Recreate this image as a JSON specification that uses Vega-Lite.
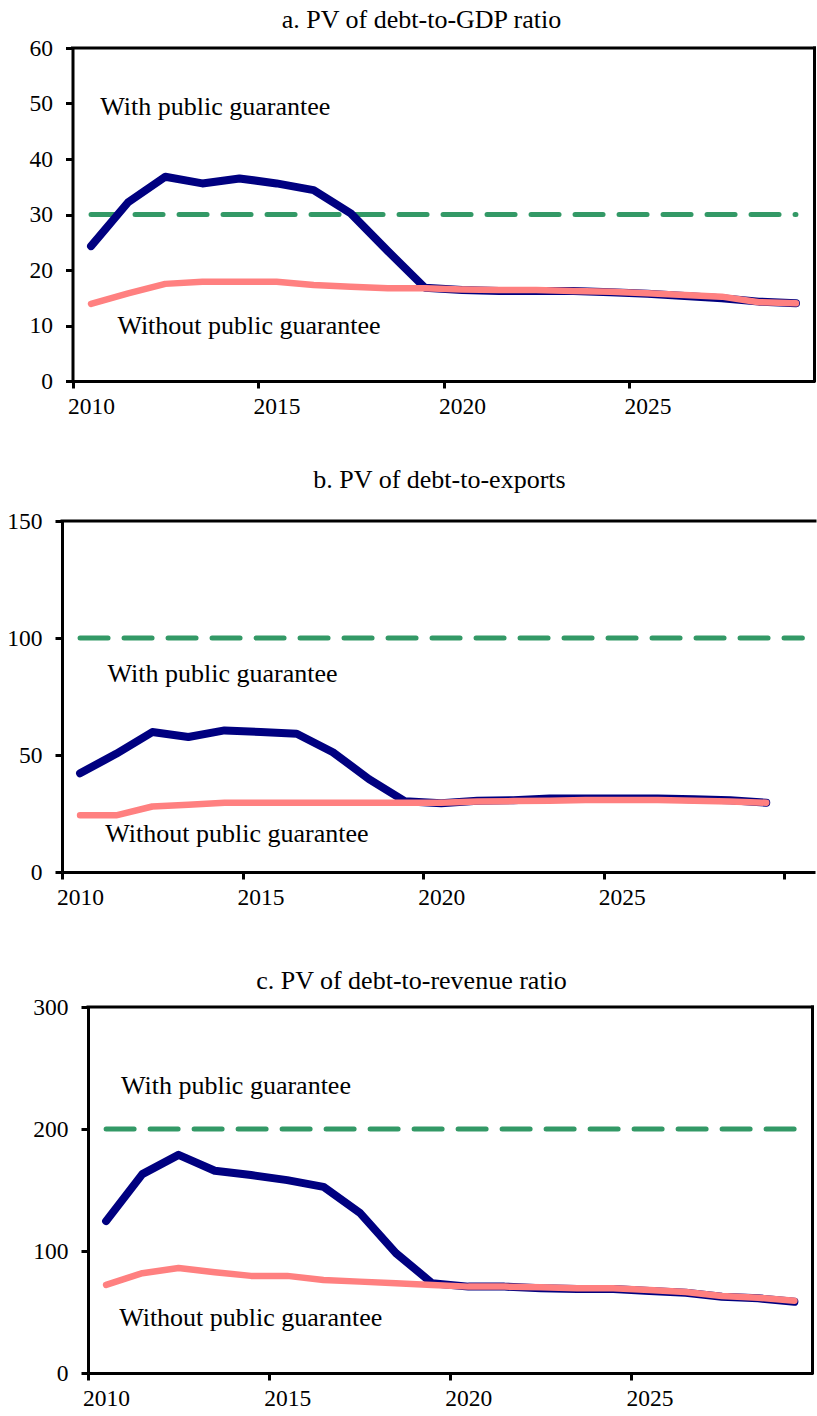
{
  "$schema": "https://vega.github.io/schema/vega-lite/v6.json",
  "padding": {"left": 0, "top": 7, "right": 0, "bottom": 0},
  "background": "white",
  "spacing": 40,
  "datasets": {
    "debt": [
      {"panel": "a", "series": "with", "year": 2010, "value": 24.3},
      {"panel": "a", "series": "with", "year": 2011, "value": 32.2},
      {"panel": "a", "series": "with", "year": 2012, "value": 36.8},
      {"panel": "a", "series": "with", "year": 2013, "value": 35.6},
      {"panel": "a", "series": "with", "year": 2014, "value": 36.5},
      {"panel": "a", "series": "with", "year": 2015, "value": 35.6},
      {"panel": "a", "series": "with", "year": 2016, "value": 34.4},
      {"panel": "a", "series": "with", "year": 2017, "value": 30.2},
      {"panel": "a", "series": "with", "year": 2018, "value": 23.4},
      {"panel": "a", "series": "with", "year": 2019, "value": 16.8},
      {"panel": "a", "series": "with", "year": 2020, "value": 16.4},
      {"panel": "a", "series": "with", "year": 2021, "value": 16.2},
      {"panel": "a", "series": "with", "year": 2022, "value": 16.2},
      {"panel": "a", "series": "with", "year": 2023, "value": 16.2},
      {"panel": "a", "series": "with", "year": 2024, "value": 16.0},
      {"panel": "a", "series": "with", "year": 2025, "value": 15.7},
      {"panel": "a", "series": "with", "year": 2026, "value": 15.3},
      {"panel": "a", "series": "with", "year": 2027, "value": 14.9},
      {"panel": "a", "series": "with", "year": 2028, "value": 14.3},
      {"panel": "a", "series": "with", "year": 2029, "value": 14.0},
      {"panel": "a", "series": "without", "year": 2010, "value": 13.9},
      {"panel": "a", "series": "without", "year": 2011, "value": 15.8},
      {"panel": "a", "series": "without", "year": 2012, "value": 17.5},
      {"panel": "a", "series": "without", "year": 2013, "value": 17.9},
      {"panel": "a", "series": "without", "year": 2014, "value": 17.9},
      {"panel": "a", "series": "without", "year": 2015, "value": 17.9},
      {"panel": "a", "series": "without", "year": 2016, "value": 17.3},
      {"panel": "a", "series": "without", "year": 2017, "value": 17.0},
      {"panel": "a", "series": "without", "year": 2018, "value": 16.7},
      {"panel": "a", "series": "without", "year": 2019, "value": 16.7},
      {"panel": "a", "series": "without", "year": 2020, "value": 16.5},
      {"panel": "a", "series": "without", "year": 2021, "value": 16.4},
      {"panel": "a", "series": "without", "year": 2022, "value": 16.4},
      {"panel": "a", "series": "without", "year": 2023, "value": 16.2},
      {"panel": "a", "series": "without", "year": 2024, "value": 16.1},
      {"panel": "a", "series": "without", "year": 2025, "value": 15.8},
      {"panel": "a", "series": "without", "year": 2026, "value": 15.5},
      {"panel": "a", "series": "without", "year": 2027, "value": 15.2},
      {"panel": "a", "series": "without", "year": 2028, "value": 14.2},
      {"panel": "a", "series": "without", "year": 2029, "value": 14.0},
      {"panel": "a", "series": "threshold", "year": 2010, "value": 30},
      {"panel": "a", "series": "threshold", "year": 2011, "value": 30},
      {"panel": "a", "series": "threshold", "year": 2012, "value": 30},
      {"panel": "a", "series": "threshold", "year": 2013, "value": 30},
      {"panel": "a", "series": "threshold", "year": 2014, "value": 30},
      {"panel": "a", "series": "threshold", "year": 2015, "value": 30},
      {"panel": "a", "series": "threshold", "year": 2016, "value": 30},
      {"panel": "a", "series": "threshold", "year": 2017, "value": 30},
      {"panel": "a", "series": "threshold", "year": 2018, "value": 30},
      {"panel": "a", "series": "threshold", "year": 2019, "value": 30},
      {"panel": "a", "series": "threshold", "year": 2020, "value": 30},
      {"panel": "a", "series": "threshold", "year": 2021, "value": 30},
      {"panel": "a", "series": "threshold", "year": 2022, "value": 30},
      {"panel": "a", "series": "threshold", "year": 2023, "value": 30},
      {"panel": "a", "series": "threshold", "year": 2024, "value": 30},
      {"panel": "a", "series": "threshold", "year": 2025, "value": 30},
      {"panel": "a", "series": "threshold", "year": 2026, "value": 30},
      {"panel": "a", "series": "threshold", "year": 2027, "value": 30},
      {"panel": "a", "series": "threshold", "year": 2028, "value": 30},
      {"panel": "a", "series": "threshold", "year": 2029, "value": 30},

      {"panel": "b", "series": "with", "year": 2010, "value": 42.2},
      {"panel": "b", "series": "with", "year": 2011, "value": 50.5},
      {"panel": "b", "series": "with", "year": 2012, "value": 59.8},
      {"panel": "b", "series": "with", "year": 2013, "value": 57.7},
      {"panel": "b", "series": "with", "year": 2014, "value": 60.5},
      {"panel": "b", "series": "with", "year": 2015, "value": 59.8},
      {"panel": "b", "series": "with", "year": 2016, "value": 59.1},
      {"panel": "b", "series": "with", "year": 2017, "value": 51.2},
      {"panel": "b", "series": "with", "year": 2018, "value": 39.7},
      {"panel": "b", "series": "with", "year": 2019, "value": 30.2},
      {"panel": "b", "series": "with", "year": 2020, "value": 29.4},
      {"panel": "b", "series": "with", "year": 2021, "value": 30.4},
      {"panel": "b", "series": "with", "year": 2022, "value": 30.7},
      {"panel": "b", "series": "with", "year": 2023, "value": 31.4},
      {"panel": "b", "series": "with", "year": 2024, "value": 31.4},
      {"panel": "b", "series": "with", "year": 2025, "value": 31.4},
      {"panel": "b", "series": "with", "year": 2026, "value": 31.4},
      {"panel": "b", "series": "with", "year": 2027, "value": 31.1},
      {"panel": "b", "series": "with", "year": 2028, "value": 30.7},
      {"panel": "b", "series": "with", "year": 2029, "value": 29.6},
      {"panel": "b", "series": "without", "year": 2010, "value": 24.2},
      {"panel": "b", "series": "without", "year": 2011, "value": 24.2},
      {"panel": "b", "series": "without", "year": 2012, "value": 28.0},
      {"panel": "b", "series": "without", "year": 2013, "value": 28.7},
      {"panel": "b", "series": "without", "year": 2014, "value": 29.6},
      {"panel": "b", "series": "without", "year": 2015, "value": 29.6},
      {"panel": "b", "series": "without", "year": 2016, "value": 29.6},
      {"panel": "b", "series": "without", "year": 2017, "value": 29.6},
      {"panel": "b", "series": "without", "year": 2018, "value": 29.6},
      {"panel": "b", "series": "without", "year": 2019, "value": 29.6},
      {"panel": "b", "series": "without", "year": 2020, "value": 29.6},
      {"panel": "b", "series": "without", "year": 2021, "value": 30.1},
      {"panel": "b", "series": "without", "year": 2022, "value": 30.3},
      {"panel": "b", "series": "without", "year": 2023, "value": 30.4},
      {"panel": "b", "series": "without", "year": 2024, "value": 30.8},
      {"panel": "b", "series": "without", "year": 2025, "value": 30.8},
      {"panel": "b", "series": "without", "year": 2026, "value": 30.8},
      {"panel": "b", "series": "without", "year": 2027, "value": 30.4},
      {"panel": "b", "series": "without", "year": 2028, "value": 30.1},
      {"panel": "b", "series": "without", "year": 2029, "value": 29.6},
      {"panel": "b", "series": "threshold", "year": 2010, "value": 100},
      {"panel": "b", "series": "threshold", "year": 2011, "value": 100},
      {"panel": "b", "series": "threshold", "year": 2012, "value": 100},
      {"panel": "b", "series": "threshold", "year": 2013, "value": 100},
      {"panel": "b", "series": "threshold", "year": 2014, "value": 100},
      {"panel": "b", "series": "threshold", "year": 2015, "value": 100},
      {"panel": "b", "series": "threshold", "year": 2016, "value": 100},
      {"panel": "b", "series": "threshold", "year": 2017, "value": 100},
      {"panel": "b", "series": "threshold", "year": 2018, "value": 100},
      {"panel": "b", "series": "threshold", "year": 2019, "value": 100},
      {"panel": "b", "series": "threshold", "year": 2020, "value": 100},
      {"panel": "b", "series": "threshold", "year": 2021, "value": 100},
      {"panel": "b", "series": "threshold", "year": 2022, "value": 100},
      {"panel": "b", "series": "threshold", "year": 2023, "value": 100},
      {"panel": "b", "series": "threshold", "year": 2024, "value": 100},
      {"panel": "b", "series": "threshold", "year": 2025, "value": 100},
      {"panel": "b", "series": "threshold", "year": 2026, "value": 100},
      {"panel": "b", "series": "threshold", "year": 2027, "value": 100},
      {"panel": "b", "series": "threshold", "year": 2028, "value": 100},
      {"panel": "b", "series": "threshold", "year": 2029, "value": 100},
      {"panel": "b", "series": "threshold", "year": 2030, "value": 100},

      {"panel": "c", "series": "with", "year": 2010, "value": 124.5},
      {"panel": "c", "series": "with", "year": 2011, "value": 163.0},
      {"panel": "c", "series": "with", "year": 2012, "value": 178.8},
      {"panel": "c", "series": "with", "year": 2013, "value": 165.8},
      {"panel": "c", "series": "with", "year": 2014, "value": 162.3},
      {"panel": "c", "series": "with", "year": 2015, "value": 158.1},
      {"panel": "c", "series": "with", "year": 2016, "value": 152.6},
      {"panel": "c", "series": "with", "year": 2017, "value": 131.4},
      {"panel": "c", "series": "with", "year": 2018, "value": 98.3},
      {"panel": "c", "series": "with", "year": 2019, "value": 73.6},
      {"panel": "c", "series": "with", "year": 2020, "value": 70.8},
      {"panel": "c", "series": "with", "year": 2021, "value": 70.8},
      {"panel": "c", "series": "with", "year": 2022, "value": 69.4},
      {"panel": "c", "series": "with", "year": 2023, "value": 68.9},
      {"panel": "c", "series": "with", "year": 2024, "value": 68.9},
      {"panel": "c", "series": "with", "year": 2025, "value": 67.2},
      {"panel": "c", "series": "with", "year": 2026, "value": 65.8},
      {"panel": "c", "series": "with", "year": 2027, "value": 62.5},
      {"panel": "c", "series": "with", "year": 2028, "value": 61.2},
      {"panel": "c", "series": "with", "year": 2029, "value": 58.4},
      {"panel": "c", "series": "without", "year": 2010, "value": 72.2},
      {"panel": "c", "series": "without", "year": 2011, "value": 81.8},
      {"panel": "c", "series": "without", "year": 2012, "value": 86.0},
      {"panel": "c", "series": "without", "year": 2013, "value": 82.6},
      {"panel": "c", "series": "without", "year": 2014, "value": 79.6},
      {"panel": "c", "series": "without", "year": 2015, "value": 79.6},
      {"panel": "c", "series": "without", "year": 2016, "value": 76.3},
      {"panel": "c", "series": "without", "year": 2017, "value": 74.9},
      {"panel": "c", "series": "without", "year": 2018, "value": 73.6},
      {"panel": "c", "series": "without", "year": 2019, "value": 72.2},
      {"panel": "c", "series": "without", "year": 2020, "value": 70.8},
      {"panel": "c", "series": "without", "year": 2021, "value": 70.8},
      {"panel": "c", "series": "without", "year": 2022, "value": 70.2},
      {"panel": "c", "series": "without", "year": 2023, "value": 69.4},
      {"panel": "c", "series": "without", "year": 2024, "value": 69.4},
      {"panel": "c", "series": "without", "year": 2025, "value": 68.0},
      {"panel": "c", "series": "without", "year": 2026, "value": 66.4},
      {"panel": "c", "series": "without", "year": 2027, "value": 63.1},
      {"panel": "c", "series": "without", "year": 2028, "value": 61.7},
      {"panel": "c", "series": "without", "year": 2029, "value": 59.2},
      {"panel": "c", "series": "threshold", "year": 2010, "value": 200},
      {"panel": "c", "series": "threshold", "year": 2011, "value": 200},
      {"panel": "c", "series": "threshold", "year": 2012, "value": 200},
      {"panel": "c", "series": "threshold", "year": 2013, "value": 200},
      {"panel": "c", "series": "threshold", "year": 2014, "value": 200},
      {"panel": "c", "series": "threshold", "year": 2015, "value": 200},
      {"panel": "c", "series": "threshold", "year": 2016, "value": 200},
      {"panel": "c", "series": "threshold", "year": 2017, "value": 200},
      {"panel": "c", "series": "threshold", "year": 2018, "value": 200},
      {"panel": "c", "series": "threshold", "year": 2019, "value": 200},
      {"panel": "c", "series": "threshold", "year": 2020, "value": 200},
      {"panel": "c", "series": "threshold", "year": 2021, "value": 200},
      {"panel": "c", "series": "threshold", "year": 2022, "value": 200},
      {"panel": "c", "series": "threshold", "year": 2023, "value": 200},
      {"panel": "c", "series": "threshold", "year": 2024, "value": 200},
      {"panel": "c", "series": "threshold", "year": 2025, "value": 200},
      {"panel": "c", "series": "threshold", "year": 2026, "value": 200},
      {"panel": "c", "series": "threshold", "year": 2027, "value": 200},
      {"panel": "c", "series": "threshold", "year": 2028, "value": 200},
      {"panel": "c", "series": "threshold", "year": 2029, "value": 200}
    ]
  },
  "config": {
    "font": "Liberation Serif",
    "view": {"stroke": null},
    "axis": {
      "domainColor": "black",
      "domainWidth": 3,
      "tickColor": "black",
      "tickWidth": 3,
      "tickSize": 7,
      "labelFont": "Liberation Serif",
      "labelFontSize": 23.5,
      "labelColor": "black",
      "grid": false
    },
    "title": {
      "font": "Liberation Serif",
      "fontSize": 26,
      "fontWeight": "normal",
      "color": "black",
      "baseline": "alphabetic",
      "frame": "group",
      "anchor": "middle"
    },
    "text": {"font": "Liberation Serif", "fontSize": 26, "align": "left", "baseline": "alphabetic", "color": "black"},
    "rule": {"color": "black", "strokeWidth": 3, "strokeCap": "square"}
  },
  "vconcat": [
    {
      "title": {"text": "a. PV of debt-to-GDP ratio", "offset": 3, "dx": -17},
      "width": 753,
      "height": 333,
      "data": {"name": "debt"},
      "layer": [
        {"transform": [{"filter": "datum.panel == 'a' && datum.series == 'threshold'"}],
         "mark": {"type": "line", "color": "#339966", "strokeWidth": 5, "strokeDash": [28, 16], "strokeCap": "round"},
         "encoding": {
           "x": {
             "field": "year", "type": "quantitative", "title": null,
             "scale": {"domain": [2009.5, 2029.5], "range": [10.5, 752.5], "nice": false, "zero": false},
             "axis": {"values": [2009.5, 2014.5, 2019.5, 2024.5], "labelExpr": "format(datum.value + 0.5, 'd')",
                      "labelOffset": 18.5, "labelPadding": 6.5, "labelFlush": false, "minExtent": 44.5, "maxExtent": 44.5}
           },
           "y": {
             "field": "value", "type": "quantitative", "title": null,
             "scale": {"domain": [0, 60], "nice": false},
             "axis": {"values": [0, 10, 20, 30, 40, 50, 60], "labelPadding": 13, "offset": -10.5, "minExtent": 62, "maxExtent": 62}
           }
         }},
        {"transform": [{"filter": "datum.panel == 'a' && datum.series == 'with'"}],
         "mark": {"type": "line", "color": "#000080", "strokeWidth": 8, "strokeCap": "round", "strokeJoin": "round"},
         "encoding": {"x": {"field": "year", "type": "quantitative"}, "y": {"field": "value", "type": "quantitative"}}},
        {"transform": [{"filter": "datum.panel == 'a' && datum.series == 'without'"}],
         "mark": {"type": "line", "color": "#ff8080", "strokeWidth": 6.5, "strokeCap": "round", "strokeJoin": "round"},
         "encoding": {"x": {"field": "year", "type": "quantitative"}, "y": {"field": "value", "type": "quantitative"}}},
        {"data": {"values": [{"edge": "top"}]},
         "mark": {"type": "rule"},
         "encoding": {"x": {"datum": 2009.5}, "x2": {"datum": 2029.5}, "y": {"datum": 60}}},
        {"data": {"values": [{"edge": "right"}]},
         "mark": {"type": "rule"},
         "encoding": {"x": {"datum": 2029.5}, "y": {"datum": 0}, "y2": {"datum": 60}}},
        {"data": {"values": [{"label": "With public guarantee"}]},
         "mark": {"type": "text"},
         "encoding": {"x": {"datum": 2010.25}, "y": {"datum": 48.0}, "text": {"field": "label"}}},
        {"data": {"values": [{"label": "Without public guarantee"}]},
         "mark": {"type": "text"},
         "encoding": {"x": {"datum": 2010.71}, "y": {"datum": 8.4}, "text": {"field": "label"}}}
      ]
    },
    {
      "title": {"text": "b. PV of debt-to-exports", "offset": 16.5, "dx": 1},
      "width": 753,
      "height": 351,
      "data": {"name": "debt"},
      "layer": [
        {"transform": [{"filter": "datum.panel == 'b' && datum.series == 'threshold'"}],
         "mark": {"type": "line", "color": "#339966", "strokeWidth": 5, "strokeDash": [28, 16], "strokeCap": "round"},
         "encoding": {
           "x": {
             "field": "year", "type": "quantitative", "title": null,
             "scale": {"domain": [2009.5, 2030.35], "nice": false, "zero": false},
             "axis": {"values": [2009.5, 2014.5, 2019.5, 2024.5, 2029.5], "labelExpr": "datum.value > 2029 ? '' : format(datum.value + 0.5, 'd')",
                      "labelOffset": 18, "labelPadding": 6.5, "labelFlush": false, "minExtent": 56, "maxExtent": 56}
           },
           "y": {
             "field": "value", "type": "quantitative", "title": null,
             "scale": {"domain": [0, 150], "nice": false},
             "axis": {"values": [0, 50, 100, 150], "labelPadding": 13, "minExtent": 62, "maxExtent": 62}
           }
         }},
        {"transform": [{"filter": "datum.panel == 'b' && datum.series == 'with'"}],
         "mark": {"type": "line", "color": "#000080", "strokeWidth": 8, "strokeCap": "round", "strokeJoin": "round"},
         "encoding": {"x": {"field": "year", "type": "quantitative"}, "y": {"field": "value", "type": "quantitative"}}},
        {"transform": [{"filter": "datum.panel == 'b' && datum.series == 'without'"}],
         "mark": {"type": "line", "color": "#ff8080", "strokeWidth": 6.5, "strokeCap": "round", "strokeJoin": "round"},
         "encoding": {"x": {"field": "year", "type": "quantitative"}, "y": {"field": "value", "type": "quantitative"}}},
        {"data": {"values": [{"edge": "top"}]},
         "mark": {"type": "rule"},
         "encoding": {"x": {"datum": 2009.5}, "x2": {"datum": 2030.35}, "y": {"datum": 150}}},
        {"data": {"values": [{"label": "With public guarantee"}]},
         "mark": {"type": "text"},
         "encoding": {"x": {"datum": 2010.76}, "y": {"datum": 81.0}, "text": {"field": "label"}}},
        {"data": {"values": [{"label": "Without public guarantee"}]},
         "mark": {"type": "text"},
         "encoding": {"x": {"datum": 2010.7}, "y": {"datum": 13.0}, "text": {"field": "label"}}}
      ]
    },
    {
      "title": {"text": "c. PV of debt-to-revenue ratio", "offset": 1, "dx": -27},
      "width": 753,
      "height": 366,
      "data": {"name": "debt"},
      "layer": [
        {"transform": [{"filter": "datum.panel == 'c' && datum.series == 'threshold'"}],
         "mark": {"type": "line", "color": "#339966", "strokeWidth": 5, "strokeDash": [28, 16], "strokeCap": "round"},
         "encoding": {
           "x": {
             "field": "year", "type": "quantitative", "title": null,
             "scale": {"domain": [2009.5, 2029.5], "range": [26, 750.5], "nice": false, "zero": false},
             "axis": {"values": [2009.5, 2014.5, 2019.5, 2024.5], "labelExpr": "format(datum.value + 0.5, 'd')",
                      "labelOffset": 18, "labelPadding": 6.5, "labelFlush": false, "minExtent": 40, "maxExtent": 40}
           },
           "y": {
             "field": "value", "type": "quantitative", "title": null,
             "scale": {"domain": [0, 300], "nice": false},
             "axis": {"values": [0, 100, 200, 300], "labelPadding": 13, "offset": -26, "minExtent": 62, "maxExtent": 62}
           }
         }},
        {"transform": [{"filter": "datum.panel == 'c' && datum.series == 'with'"}],
         "mark": {"type": "line", "color": "#000080", "strokeWidth": 8, "strokeCap": "round", "strokeJoin": "round"},
         "encoding": {"x": {"field": "year", "type": "quantitative"}, "y": {"field": "value", "type": "quantitative"}}},
        {"transform": [{"filter": "datum.panel == 'c' && datum.series == 'without'"}],
         "mark": {"type": "line", "color": "#ff8080", "strokeWidth": 6.5, "strokeCap": "round", "strokeJoin": "round"},
         "encoding": {"x": {"field": "year", "type": "quantitative"}, "y": {"field": "value", "type": "quantitative"}}},
        {"data": {"values": [{"edge": "top"}]},
         "mark": {"type": "rule"},
         "encoding": {"x": {"datum": 2009.5}, "x2": {"datum": 2029.5}, "y": {"datum": 300}}},
        {"data": {"values": [{"edge": "right"}]},
         "mark": {"type": "rule"},
         "encoding": {"x": {"datum": 2029.5}, "y": {"datum": 0}, "y2": {"datum": 300}}},
        {"data": {"values": [{"label": "With public guarantee"}]},
         "mark": {"type": "text"},
         "encoding": {"x": {"datum": 2010.41}, "y": {"datum": 229.0}, "text": {"field": "label"}}},
        {"data": {"values": [{"label": "Without public guarantee"}]},
         "mark": {"type": "text"},
         "encoding": {"x": {"datum": 2010.36}, "y": {"datum": 38.4}, "text": {"field": "label"}}}
      ]
    }
  ]
}
